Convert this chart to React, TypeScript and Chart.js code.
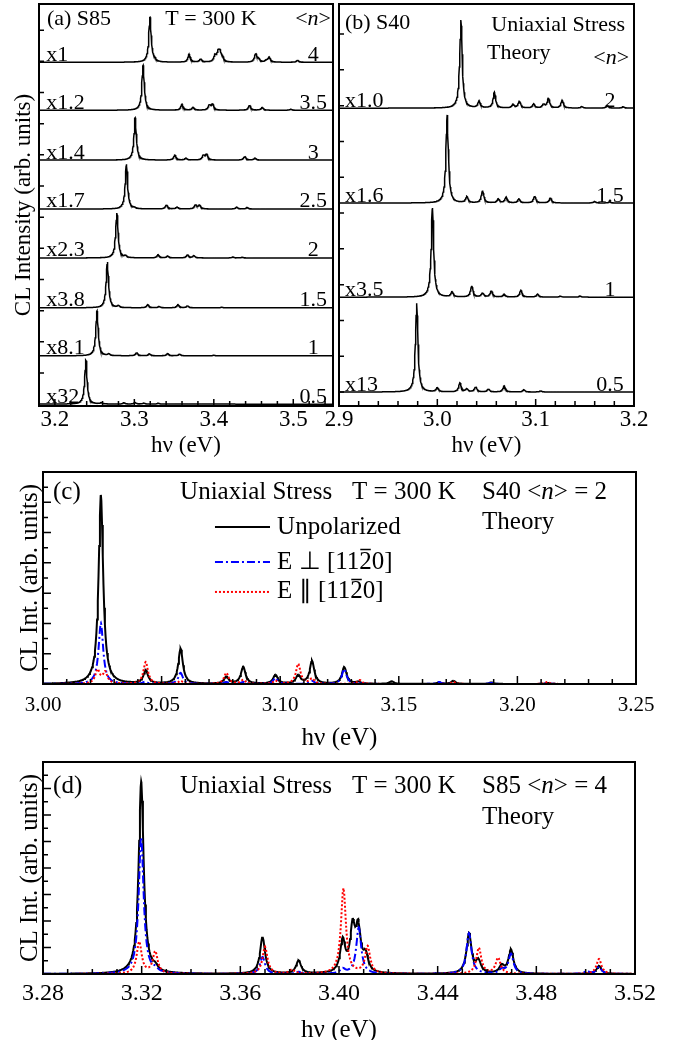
import React, { useEffect, useRef } from "react";
import { Chart, registerables } from "chart.js";

Chart.register(...registerables);

const FONT = "'Liberation Serif', 'Times New Roman', Times, serif";

type Peak = [number, number];
type Part = { t: string; i?: boolean; o?: boolean };
type TextItem = { x: number; y: number; parts: Part[]; align?: "left" | "right" | "center"; size: number; base?: CanvasTextBaseline };
type LegendItem = { x0: number; x1: number; xt: number; y: number; color: string; dash: number[]; width: number; parts: Part[]; size: number };
type Tick = { v: number; len: number };

// ================= Panel (a): S85, T = 300 K =================
const aXRange = [3.18, 3.55];
const aYRange = [-0.06, 12.84];
const aXLabels = [3.2, 3.3, 3.4, 3.5];
const aXMinorStep = 0.02;
const aYTicks = [1, 2, 3, 4, 5, 6, 7, 8, 9, 10, 11, 12];
const aFactors = ["x1", "x1.2", "x1.4", "x1.7", "x2.3", "x3.8", "x8.1", "x32"];
const aOccupancy = ["4", "3.5", "3", "2.5", "2", "1.5", "1", "0.5"];
const aOffsets = [10.97, 9.43, 7.83, 6.26, 4.69, 3.09, 1.55, 0];
const aHwhm = 0.0018;
const s85n40: Peak[] = [[3.3197, 1.44], [3.3255, 0.06], [3.369, 0.26], [3.3835, 0.1], [3.4015, 0.2], [3.4055, 0.27], [3.4078, 0.27], [3.411, 0.12], [3.4527, 0.27], [3.4565, 0.09], [3.466, 0.05], [3.4697, 0.16], [3.5055, 0.06]];
const s85n35: Peak[] = [[3.311, 1.44], [3.36, 0.19], [3.374, 0.09], [3.3945, 0.16], [3.3985, 0.19], [3.445, 0.16], [3.461, 0.09], [3.497, 0.03]];
const s85n30: Peak[] = [[3.301, 1.36], [3.351, 0.16], [3.365, 0.06], [3.387, 0.15], [3.391, 0.18], [3.439, 0.12], [3.452, 0.06]];
const s85n25: Peak[] = [[3.29, 1.44], [3.3, 0.03], [3.3405, 0.13], [3.354, 0.06], [3.377, 0.13], [3.382, 0.12], [3.429, 0.06], [3.442, 0.05]];
const s85n20: Peak[] = [[3.278, 1.44], [3.289, 0.06], [3.33, 0.1], [3.342, 0.06], [3.367, 0.1], [3.375, 0.07], [3.424, 0.03], [3.436, 0.02]];
const s85n15: Peak[] = [[3.266, 1.47], [3.28, 0.06], [3.317, 0.1], [3.331, 0.04], [3.355, 0.1], [3.367, 0.06], [3.41, 0.02]];
const s85n10: Peak[] = [[3.253, 1.44], [3.268, 0.05], [3.303, 0.1], [3.319, 0.06], [3.342, 0.07], [3.357, 0.05], [3.4, 0.02]];
const s85n05: Peak[] = [[3.239, 1.41], [3.2585, 0.04], [3.287, 0.04], [3.301, 0.05], [3.312, 0.03], [3.33, 0.03]];
const aSpectra = [s85n40, s85n35, s85n30, s85n25, s85n20, s85n15, s85n10, s85n05];

// ================= Panel (b): S40, uniaxial stress theory =================
const bXRange = [2.9, 3.2];
const bYRange = [-0.39, 10.84];
const bXLabels = [2.9, 3.0, 3.1, 3.2];
const bXMinorStep = 0.02;
const bYTicks = [0, 1, 2, 3, 4, 5, 6, 7, 8, 9, 10];
const bFactors = ["x1.0", "x1.6", "x3.5", "x13"];
const bOccupancy = ["2", "1.5", "1", "0.5"];
const bOffsets = [7.93, 5.28, 2.65, 0];
const bHwhm = 0.0015;
const s40n20: Peak[] = [[3.024, 2.46], [3.0425, 0.19], [3.058, 0.44], [3.077, 0.1], [3.0835, 0.19], [3.098, 0.11], [3.108, 0.1], [3.113, 0.27], [3.127, 0.22], [3.147, 0.04], [3.173, 0.07], [3.189, 0.04]];
const s40n15: Peak[] = [[3.01, 2.46], [3.03, 0.17], [3.046, 0.34], [3.062, 0.11], [3.07, 0.16], [3.083, 0.11], [3.099, 0.19], [3.115, 0.14], [3.16, 0.04], [3.175, 0.03]];
const s40n10: Peak[] = [[2.995, 2.49], [3.015, 0.14], [3.035, 0.31], [3.046, 0.11], [3.055, 0.17], [3.068, 0.08], [3.085, 0.19], [3.102, 0.08], [3.125, 0.03], [3.145, 0.03]];
const s40n05: Peak[] = [[2.979, 2.48], [3.0, 0.11], [3.023, 0.25], [3.03, 0.08], [3.039, 0.14], [3.052, 0.08], [3.068, 0.17], [3.088, 0.06], [3.105, 0.03]];
const bSpectra = [s40n20, s40n15, s40n10, s40n05];

// ================= Panel (c): S40 <n> = 2, polarized =================
const cXRange = [3.0, 3.25];
const cYRange = [0, 14];
const cXLabels = [3.0, 3.05, 3.1, 3.15, 3.2, 3.25];
const cXMinorStep = 0.01;
const cYTicks = [1, 2, 3, 4, 5, 6, 7, 8, 9, 10, 11, 12, 13];
const cHwhm = 0.00115;
const cUnpolarized: Peak[] = [[3.0244, 12.48], [3.0433, 0.86], [3.058, 2.31], [3.0773, 0.46], [3.0844, 1.12], [3.098, 0.59], [3.1076, 0.55], [3.1134, 1.5], [3.127, 1.12], [3.133, 0.13], [3.147, 0.17], [3.167, 0.1], [3.173, 0.2], [3.189, 0.1], [3.2126, 0.07]];
const cPerp: Peak[] = [[3.0244, 4.03], [3.043, 0.13], [3.058, 0.73], [3.0773, 0.13], [3.0844, 0.13], [3.098, 0.4], [3.1134, 0.2], [3.127, 0.99], [3.167, 0.13], [3.189, 0.07], [3.2126, 0.07]];
const cPar: Peak[] = [[3.023, 0.9], [3.0262, 0.75], [3.0433, 1.45], [3.058, 0.2], [3.0773, 0.73], [3.0844, 0.26], [3.098, 0.2], [3.1076, 1.32], [3.1134, 0.33], [3.1335, 0.26], [3.173, 0.13], [3.2126, 0.13]];

// ================= Panel (d): S85 <n> = 4, polarized =================
const dXRange = [3.28, 3.52];
const dYRange = [0, 16];
const dXLabels = [3.28, 3.32, 3.36, 3.4, 3.44, 3.48, 3.52];
const dXMinorStep = 0.01;
const dYTicks = [1, 2, 3, 4, 5, 6, 7, 8, 9, 10, 11, 12, 13, 14, 15];
const dHwhm = 0.0012;
const dUnpolarized: Peak[] = [[3.3198, 14.5], [3.3255, 0.3], [3.369, 2.79], [3.3836, 0.98], [3.4015, 2.4], [3.4055, 3.2], [3.4078, 3.2], [3.4108, 1.2], [3.4527, 3.0], [3.4565, 0.9], [3.466, 0.55], [3.4697, 1.8], [3.5054, 0.6]];
const dPerp: Peak[] = [[3.3198, 10.3], [3.3255, 0.2], [3.369, 1.28], [3.3836, 0.15], [3.4015, 0.35], [3.408, 3.5], [3.4527, 3.08], [3.466, 0.3], [3.4697, 1.5], [3.5005, 0.2], [3.5054, 0.53]];
const dPar: Peak[] = [[3.319, 2.4], [3.3255, 1.66], [3.37, 2.04], [3.381, 0.3], [3.4018, 6.45], [3.4116, 2.04], [3.4567, 1.96], [3.4645, 1.2], [3.5054, 1.13]];

// ---------------- helpers ----------------
function sampleSpectrum(peaks: Peak[], hwhm: number, xr: number[], step: number, offset: number) {
  const xs: number[] = [];
  const n = Math.round((xr[1] - xr[0]) / step);
  for (let k = 0; k <= n; k++) xs.push(xr[0] + k * step);
  for (const p of peaks) xs.push(p[0]);
  xs.sort((a, b) => a - b);
  return xs.map((x) => {
    let y = offset;
    for (const [c, h] of peaks) {
      const d = (x - c) / hwhm;
      y += h / (1 + d * d);
    }
    return { x, y };
  });
}

function xTickList(range: number[], majors: number[], step: number, majorLen: number, minorLen: number): Tick[] {
  const out: Tick[] = [];
  const k0 = Math.ceil(range[0] / step - 1e-6);
  const k1 = Math.floor(range[1] / step + 1e-6);
  for (let k = k0; k <= k1; k++) {
    const v = +(k * step).toFixed(6);
    if (v <= range[0] + 1e-6 || v >= range[1] - 1e-6) continue;
    const major = majors.some((m) => Math.abs(m - v) < 1e-6);
    out.push({ v, len: major ? majorLen : minorLen });
  }
  return out;
}

function drawRich(ctx: CanvasRenderingContext2D, parts: Part[], x: number, y: number, align: string, size: number, base: CanvasTextBaseline) {
  const fN = `${size}px ${FONT}`;
  const fI = `italic ${size}px ${FONT}`;
  ctx.textBaseline = base;
  ctx.textAlign = "left";
  const widths = parts.map((p) => {
    ctx.font = p.i ? fI : fN;
    return ctx.measureText(p.t).width;
  });
  const total = widths.reduce((a, b) => a + b, 0);
  let cx = align === "right" ? x - total : align === "center" ? x - total / 2 : x;
  parts.forEach((p, k) => {
    ctx.font = p.i ? fI : fN;
    ctx.fillText(p.t, cx, y);
    if (p.o) {
      const m = ctx.measureText(p.t);
      const oy = y - m.actualBoundingBoxAscent - 2;
      ctx.setLineDash([]);
      ctx.lineWidth = 1.5;
      ctx.strokeStyle = "#000";
      ctx.beginPath();
      ctx.moveTo(cx + 1, oy);
      ctx.lineTo(cx + widths[k] - 1, oy);
      ctx.stroke();
    }
    cx += widths[k];
  });
}

function makeDecor(spec: { xTicks: Tick[]; yTicks: Tick[]; texts: TextItem[]; legend?: LegendItem[] }) {
  return {
    id: "decor",
    afterDraw(chart: any) {
      const { ctx, chartArea: ca, scales } = chart;
      const xs = scales.x;
      const ys = scales.y;
      ctx.save();
      ctx.strokeStyle = "#000";
      ctx.fillStyle = "#000";
      ctx.setLineDash([]);
      ctx.lineWidth = 1.5;
      ctx.beginPath();
      for (const t of spec.xTicks) {
        const px = xs.getPixelForValue(t.v);
        ctx.moveTo(px, ca.bottom);
        ctx.lineTo(px, ca.bottom - t.len);
      }
      for (const t of spec.yTicks) {
        const py = ys.getPixelForValue(t.v);
        ctx.moveTo(ca.left, py);
        ctx.lineTo(ca.left + t.len, py);
      }
      ctx.stroke();
      ctx.lineWidth = 2;
      ctx.strokeRect(ca.left, ca.top, ca.right - ca.left, ca.bottom - ca.top);
      for (const l of spec.legend || []) {
        const py = ys.getPixelForValue(l.y);
        ctx.save();
        ctx.strokeStyle = l.color;
        ctx.lineWidth = l.width;
        ctx.setLineDash(l.dash);
        ctx.beginPath();
        ctx.moveTo(xs.getPixelForValue(l.x0), py);
        ctx.lineTo(xs.getPixelForValue(l.x1), py);
        ctx.stroke();
        ctx.restore();
        drawRich(ctx, l.parts, xs.getPixelForValue(l.xt), py, "left", l.size, "middle");
      }
      for (const t of spec.texts) {
        drawRich(ctx, t.parts, xs.getPixelForValue(t.x), ys.getPixelForValue(t.y), t.align || "left", t.size, t.base || "middle");
      }
      ctx.restore();
    },
  };
}

type PanelSpec = {
  datasets: any[];
  xRange: number[];
  yRange: number[];
  xLabels: number[];
  dec: number;
  tickSize: number;
  tickPad: number;
  xHeight: number;
  xTitleSize: number;
  xTitleLH: number;
  xTitlePadBottom: number;
  yWidth: number;
  yTitle?: string;
  yTitleSize?: number;
  yTitlePad?: number;
  padTop: number;
  padRight: number;
  decor: any;
};

function panelConfig(p: PanelSpec): any {
  return {
    type: "line",
    data: { datasets: p.datasets },
    plugins: [p.decor],
    options: {
      responsive: false,
      animation: false,
      devicePixelRatio: 1,
      events: [],
      layout: { padding: { top: p.padTop, right: p.padRight, left: 0, bottom: 0 } },
      plugins: { legend: { display: false }, tooltip: { enabled: false } },
      elements: { point: { radius: 0 }, line: { tension: 0 } },
      scales: {
        x: {
          type: "linear",
          min: p.xRange[0],
          max: p.xRange[1],
          afterBuildTicks: (s: any) => {
            s.ticks = p.xLabels.map((v) => ({ value: v }));
          },
          afterFit: (s: any) => {
            s.height = p.xHeight;
          },
          grid: { display: false, drawTicks: false },
          border: { display: false },
          ticks: {
            autoSkip: false,
            maxRotation: 0,
            padding: p.tickPad,
            color: "#000",
            font: { family: FONT, size: p.tickSize },
            callback: (v: any) => Number(v).toFixed(p.dec),
          },
          title: {
            display: true,
            text: "hν (eV)",
            color: "#000",
            font: { family: FONT, size: p.xTitleSize, lineHeight: p.xTitleLH },
            padding: { top: 0, bottom: p.xTitlePadBottom },
          },
        },
        y: {
          type: "linear",
          min: p.yRange[0],
          max: p.yRange[1],
          afterFit: (s: any) => {
            s.width = p.yWidth;
          },
          grid: { display: false, drawTicks: false },
          border: { display: false },
          ticks: { display: false },
          title: {
            display: !!p.yTitle,
            text: p.yTitle || "",
            color: "#000",
            font: { family: FONT, size: p.yTitleSize || 20, lineHeight: 1 },
            padding: { top: p.yTitlePad || 0, bottom: 0 },
          },
        },
      },
    },
  };
}

const nParts: Part[] = [{ t: "<" }, { t: "n", i: true }, { t: ">" }];

function configA() {
  const datasets = aSpectra.map((pk, k) => ({
    data: sampleSpectrum(pk, aHwhm, aXRange, 0.0004, aOffsets[k]),
    borderColor: "#000",
    borderWidth: 1.5,
    pointRadius: 0,
    fill: false,
  }));
  const texts: TextItem[] = [
    { x: 3.19, y: 12.36, parts: [{ t: "(a) S85" }], size: 22 },
    { x: 3.339, y: 12.36, parts: [{ t: "T = 300 K" }], size: 22 },
    { x: 3.5475, y: 12.36, parts: nParts, size: 22, align: "right" },
  ];
  aFactors.forEach((f, k) => texts.push({ x: 3.189, y: aOffsets[k] + 0.05, parts: [{ t: f }], size: 22, base: "alphabetic" }));
  aOccupancy.forEach((n, k) => texts.push({ x: 3.525, y: aOffsets[k] + 0.05, parts: [{ t: n }], size: 22, base: "alphabetic", align: "center" }));
  return panelConfig({
    datasets,
    xRange: aXRange,
    yRange: aYRange,
    xLabels: aXLabels,
    dec: 1,
    tickSize: 23,
    tickPad: 0.5,
    xHeight: 51,
    xTitleSize: 23,
    xTitleLH: 1,
    xTitlePadBottom: 0,
    yWidth: 39,
    yTitle: "CL Intensity (arb. units)",
    yTitleSize: 23,
    yTitlePad: 12.5,
    padTop: 4,
    padRight: 3,
    decor: makeDecor({
      xTicks: xTickList(aXRange, aXLabels, aXMinorStep, 7, 5),
      yTicks: aYTicks.map((v) => ({ v, len: 5 })),
      texts,
    }),
  });
}

function configB() {
  const datasets = bSpectra.map((pk, k) => ({
    data: sampleSpectrum(pk, bHwhm, bXRange, 0.0004, bOffsets[k]),
    borderColor: "#000",
    borderWidth: 1.5,
    pointRadius: 0,
    fill: false,
  }));
  const texts: TextItem[] = [
    { x: 2.906, y: 10.31, parts: [{ t: "(b) S40" }], size: 22 },
    { x: 3.191, y: 10.25, parts: [{ t: "Uniaxial Stress" }], size: 22, align: "right" },
    { x: 3.0505, y: 9.47, parts: [{ t: "Theory" }], size: 22 },
    { x: 3.195, y: 9.33, parts: nParts, size: 22, align: "right" },
  ];
  bFactors.forEach((f, k) => texts.push({ x: 2.906, y: bOffsets[k] + 0.04, parts: [{ t: f }], size: 22, base: "alphabetic" }));
  bOccupancy.forEach((n, k) => texts.push({ x: 3.1756, y: bOffsets[k] + 0.04, parts: [{ t: n }], size: 22, base: "alphabetic", align: "center" }));
  return panelConfig({
    datasets,
    xRange: bXRange,
    yRange: bYRange,
    xLabels: bXLabels,
    dec: 1,
    tickSize: 23,
    tickPad: 0.5,
    xHeight: 51,
    xTitleSize: 23,
    xTitleLH: 1,
    xTitlePadBottom: 0,
    yWidth: 39,
    padTop: 4,
    padRight: 44,
    decor: makeDecor({
      xTicks: xTickList(bXRange, bXLabels, bXMinorStep, 7, 5),
      yTicks: bYTicks.map((v) => ({ v, len: 5 })),
      texts,
    }),
  });
}

function polarizedDatasets(unpol: Peak[], perp: Peak[], par: Peak[], hwhm: number, xr: number[]) {
  return [
    { label: "E ∥ [11-20]", data: sampleSpectrum(par, hwhm, xr, 0.0003, 0), borderColor: "#ff0000", borderWidth: 2, borderDash: [2, 2], pointRadius: 0, fill: false, order: 0 },
    { label: "E ⊥ [11-20]", data: sampleSpectrum(perp, hwhm, xr, 0.0003, 0), borderColor: "#0000ff", borderWidth: 2, borderDash: [8, 3, 2, 3], pointRadius: 0, fill: false, order: 1 },
    { label: "Unpolarized", data: sampleSpectrum(unpol, hwhm, xr, 0.0003, 0), borderColor: "#000", borderWidth: 2, pointRadius: 0, fill: false, order: 2 },
  ];
}

function configC() {
  const texts: TextItem[] = [
    { x: 3.0042, y: 12.68, parts: [{ t: "(c)" }], size: 25 },
    { x: 3.0578, y: 12.68, parts: [{ t: "Uniaxial Stress" }], size: 25 },
    { x: 3.1303, y: 12.68, parts: [{ t: "T = 300 K" }], size: 25 },
    { x: 3.1851, y: 12.68, parts: [{ t: "S40 <" }, { t: "n", i: true }, { t: "> = 2" }], size: 25 },
    { x: 3.1851, y: 10.7, parts: [{ t: "Theory" }], size: 25 },
  ];
  const legend: LegendItem[] = [
    { x0: 3.0725, x1: 3.0957, xt: 3.0987, y: 10.37, color: "#000", dash: [], width: 2, parts: [{ t: "Unpolarized" }], size: 25 },
    { x0: 3.0725, x1: 3.0957, xt: 3.0987, y: 8.06, color: "#0000ff", dash: [8, 3, 2, 3], width: 2, parts: [{ t: "E ⊥ [11" }, { t: "2", o: true }, { t: "0]" }], size: 25 },
    { x0: 3.0725, x1: 3.0957, xt: 3.0987, y: 6.08, color: "#ff0000", dash: [2, 2], width: 2, parts: [{ t: "E ∥ [11" }, { t: "2", o: true }, { t: "0]" }], size: 25 },
  ];
  return panelConfig({
    datasets: polarizedDatasets(cUnpolarized, cPerp, cPar, cHwhm, cXRange),
    xRange: cXRange,
    yRange: cYRange,
    xLabels: cXLabels,
    dec: 2,
    tickSize: 21,
    tickPad: 8.4,
    xHeight: 69,
    xTitleSize: 25,
    xTitleLH: 1,
    xTitlePadBottom: 2.5,
    yWidth: 43,
    yTitle: "CL Int. (arb. units)",
    yTitleSize: 25,
    yTitlePad: 17.5,
    padTop: 32,
    padRight: 42,
    decor: makeDecor({
      xTicks: xTickList(cXRange, cXLabels, cXMinorStep, 8, 5),
      yTicks: cYTicks.map((v) => ({ v, len: v % 2 === 0 ? 8 : 5 })),
      texts,
      legend,
    }),
  });
}

function configD() {
  const texts: TextItem[] = [
    { x: 3.2841, y: 14.15, parts: [{ t: "(d)" }], size: 25 },
    { x: 3.3355, y: 14.15, parts: [{ t: "Uniaxial Stress" }], size: 25 },
    { x: 3.4053, y: 14.15, parts: [{ t: "T = 300 K" }], size: 25 },
    { x: 3.458, y: 14.15, parts: [{ t: "S85 <" }, { t: "n", i: true }, { t: "> = 4" }], size: 25 },
    { x: 3.458, y: 11.85, parts: [{ t: "Theory" }], size: 25 },
  ];
  return panelConfig({
    datasets: polarizedDatasets(dUnpolarized, dPerp, dPar, dHwhm, dXRange),
    xRange: dXRange,
    yRange: dYRange,
    xLabels: dXLabels,
    dec: 2,
    tickSize: 24,
    tickPad: 4.9,
    xHeight: 66,
    xTitleSize: 25,
    xTitleLH: 0.8,
    xTitlePadBottom: 0,
    yWidth: 43,
    yTitle: "CL Int. (arb. units)",
    yTitleSize: 25,
    yTitlePad: 17.5,
    padTop: 22,
    padRight: 43,
    decor: makeDecor({
      xTicks: xTickList(dXRange, dXLabels, dXMinorStep, 8, 5),
      yTicks: dYTicks.map((v) => ({ v, len: v % 2 === 0 ? 8 : 5 })),
      texts,
    }),
  });
}

function ChartCanvas(props: { make: () => any; left: number; top: number; width: number; height: number }) {
  const ref = useRef<HTMLCanvasElement>(null);
  useEffect(() => {
    const chart = new Chart(ref.current as HTMLCanvasElement, props.make());
    return () => chart.destroy();
  }, []);
  return (
    <canvas
      ref={ref}
      width={props.width}
      height={props.height}
      style={{ position: "absolute", left: props.left, top: props.top, width: props.width, height: props.height }}
    />
  );
}

export default function App() {
  return (
    <div style={{ position: "absolute", left: 0, top: 0, width: 678, height: 1040, background: "#fff", overflow: "hidden" }}>
      <ChartCanvas make={configA} left={0} top={0} width={336} height={457} />
      <ChartCanvas make={configB} left={300} top={0} width={378} height={457} />
      <ChartCanvas make={configC} left={0} top={440} width={678} height={313} />
      <ChartCanvas make={configD} left={0} top={740} width={678} height={300} />
    </div>
  );
}
